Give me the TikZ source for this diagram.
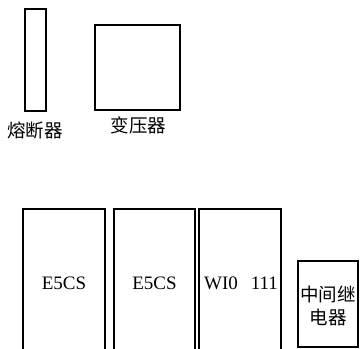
\documentclass[tikz,border=0pt]{standalone}
\usepackage{fontspec}
\setmainfont{Liberation Serif}
\newfontfamily\cjk{Noto Sans CJK SC}
\begin{document}
\begin{tikzpicture}[x=1bp,y=-1bp,
  box/.style={draw=black,line width=2bp},
  lat/.style={font=\fontsize{19bp}{23bp}\selectfont,inner sep=0pt},
  zh/.style={font=\cjk\fontsize{18.5bp}{23bp}\selectfont,inner sep=0pt}]
\useasboundingbox (0,0) rectangle (361,349);
\clip (0,0) rectangle (361,349);
% top components
\draw[box] (25,9) rectangle (46,111);
\coordinate (fuse) at (35.5,60);
\draw[box] (95,25) rectangle (180,110);
\coordinate (trans) at (137.5,67.5);
\node[zh] (fuselbl) at (35,130) {熔断器};
\node[zh] (translbl) at (138.5,125) {变压器};
% bottom modules
\draw[box] (23,209) rectangle (105,360);
\draw[box] (114,209) rectangle (195,360);
\draw[box] (199,209) rectangle (281,360);
\draw[box] (298,261) rectangle (358,347);
\node[lat] (e1) at (64,283) {E5CS};
\node[lat] (e2) at (154.5,283) {E5CS};
\node[lat] (w) at (241,283) {WI0\hspace{13bp}111};
\node[zh,align=center] (relay) at (328,306) {中间继\\电器};
\end{tikzpicture}
\end{document}
